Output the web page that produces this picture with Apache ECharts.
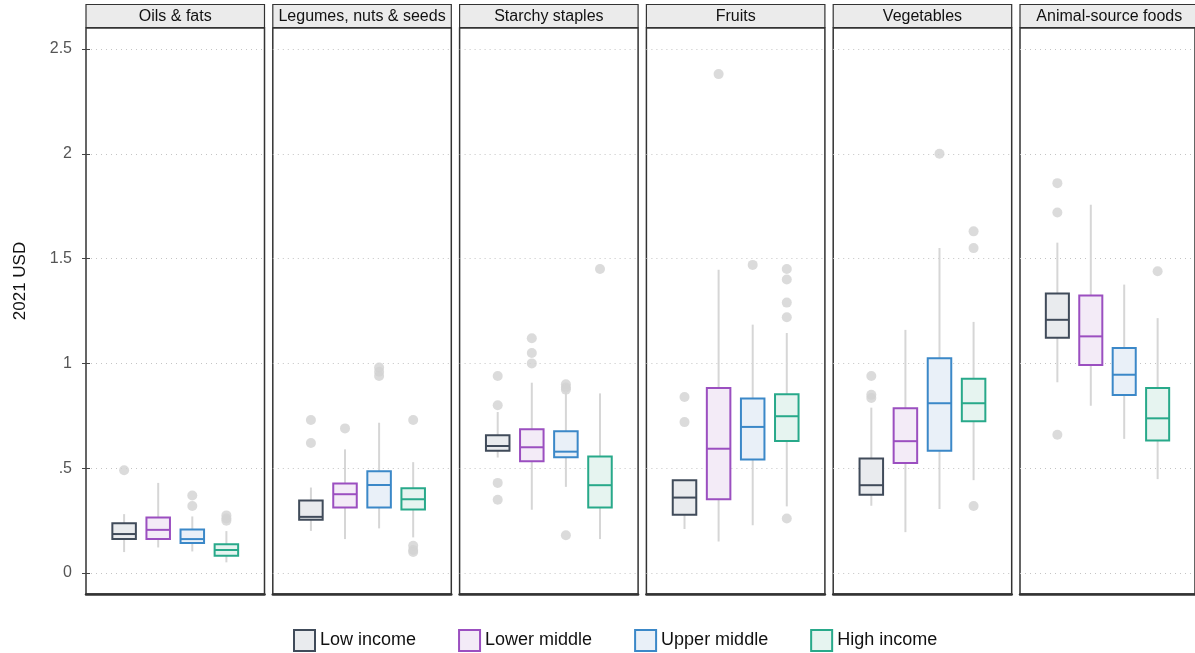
<!DOCTYPE html>
<html>
<head>
<meta charset="utf-8">
<title>Cost of food groups by country income level</title>
<script src="https://cdn.jsdelivr.net/npm/echarts@6/dist/echarts.min.js"></script>
<style>
  html, body { margin: 0; padding: 0; background: #ffffff; }
  #chart { width: 1195px; height: 653px; }
</style>
</head>
<body>
<div id="chart"></div>
<script>
// Food groups, one facet each
const foodGroups = ['Oils & fats', 'Legumes, nuts & seeds', 'Starchy staples', 'Fruits', 'Vegetables', 'Animal-source foods'];

// Country income groups
const incomeGroups = ['Low income', 'Lower middle', 'Upper middle', 'High income'];

// Box statistics per food group: [lower whisker, Q1, median, Q3, upper whisker] (2021 USD)
const lowIncomeStats = [
  [0.10, 0.162, 0.186, 0.238, 0.281],
  [0.201, 0.254, 0.268, 0.346, 0.408],
  [0.551, 0.583, 0.606, 0.657, 0.768],
  [0.21, 0.278, 0.36, 0.443, 0.443],
  [0.321, 0.373, 0.419, 0.546, 0.789],
  [0.91, 1.122, 1.208, 1.333, 1.576]
];
const lowerMiddleStats = [
  [0.122, 0.162, 0.206, 0.265, 0.43],
  [0.162, 0.313, 0.376, 0.427, 0.59],
  [0.302, 0.533, 0.60, 0.686, 0.908],
  [0.15, 0.352, 0.593, 0.883, 1.447],
  [0.195, 0.525, 0.629, 0.786, 1.16],
  [0.798, 0.992, 1.129, 1.324, 1.757]
];
const upperMiddleStats = [
  [0.103, 0.143, 0.162, 0.208, 0.27],
  [0.213, 0.313, 0.42, 0.486, 0.717],
  [0.411, 0.552, 0.579, 0.676, 0.868],
  [0.228, 0.542, 0.697, 0.833, 1.185],
  [0.305, 0.583, 0.81, 1.025, 1.551],
  [0.64, 0.849, 0.946, 1.073, 1.376]
];
const highIncomeStats = [
  [0.051, 0.083, 0.11, 0.137, 0.20],
  [0.17, 0.303, 0.352, 0.405, 0.529],
  [0.162, 0.313, 0.419, 0.556, 0.857],
  [0.318, 0.63, 0.748, 0.853, 1.145],
  [0.443, 0.724, 0.81, 0.927, 1.198],
  [0.448, 0.632, 0.738, 0.883, 1.216]
];

// Outlying countries per food group (2021 USD)
const lowIncomeOutliers = [[0.49], [0.73, 0.62], [0.94, 0.80, 0.43, 0.35], [0.84, 0.72], [0.94, 0.85, 0.835], [1.86, 1.72, 0.66]];
const lowerMiddleOutliers = [[], [0.69], [1.12, 1.05, 1.0], [2.38], [], []];
const upperMiddleOutliers = [[0.37, 0.32], [0.98, 0.96, 0.94], [0.90, 0.885, 0.875, 0.18], [1.47], [2.0], []];
const highIncomeOutliers = [[0.275, 0.26, 0.25], [0.73, 0.13, 0.11, 0.10], [1.45], [1.45, 1.40, 1.29, 1.22, 0.26], [1.63, 1.55, 0.32], [1.44]];

// Y axis ticks
const yTickValues = [0, 0.5, 1, 1.5, 2, 2.5];
const yTickLabels = ['0', '.5', '1', '1.5', '2', '2.5'];

const statsByGroup = [lowIncomeStats, lowerMiddleStats, upperMiddleStats, highIncomeStats];
const outliersByGroup = [lowIncomeOutliers, lowerMiddleOutliers, upperMiddleOutliers, highIncomeOutliers];

// Styling
const FONT = '"Liberation Sans", Arial, Helvetica, sans-serif';
const strokeColors = ['#404b5a', '#9b4fc0', '#3b88c8', '#28a98a'];
const fillColors = ['#e9ebee', '#f3ebf7', '#e9f0f8', '#e6f4f0'];
const WHISKER_COLOR = '#d6d6d6';
const OUTLIER_COLOR = '#d2d2d2';
const FRAME_COLOR = '#333333';

// Facet layout (pixels)
const PANEL_LEFT = 86;
const PANEL_STEP = 186.8;
const PANEL_WIDTH = 178.5;
const PANEL_TOP = 28;
const PANEL_HEIGHT = 566;
const HEADER_TOP = 4.5;
const HEADER_HEIGHT = 23;

// Box width in x-axis units (one unit between neighbouring boxes)
const BOX_WIDTH_UNITS = 0.69;

const chart = echarts.init(document.getElementById('chart'), null, { renderer: 'canvas' });

const grids = [], xAxes = [], yAxes = [], series = [], graphics = [];

foodGroups.forEach((name, p) => {
  const left = PANEL_LEFT + p * PANEL_STEP;
  grids.push({
    left: left, top: PANEL_TOP, width: PANEL_WIDTH, height: PANEL_HEIGHT,
    show: true, borderColor: FRAME_COLOR, borderWidth: 1.5, backgroundColor: '#ffffff',
    containLabel: false
  });
  xAxes.push({
    type: 'value', gridIndex: p, min: -0.118, max: 5.118,
    axisLine: { show: true, onZero: false, lineStyle: { color: FRAME_COLOR, width: 2.5 } },
    axisTick: { show: false }, axisLabel: { show: false }, splitLine: { show: false }
  });
  yAxes.push({
    type: 'value', gridIndex: p, min: -0.1, max: 2.6,
    axisLine: { show: false },
    axisTick: { show: p === 0, customValues: yTickValues, length: 8, lineStyle: { color: '#444', width: 1 } },
    axisLabel: {
      show: p === 0, customValues: yTickValues, margin: 14,
      color: '#555', fontSize: 16, fontFamily: FONT,
      formatter: v => {
        const i = yTickValues.findIndex(t => Math.abs(t - v) < 1e-9);
        return i >= 0 ? yTickLabels[i] : '';
      }
    },
    splitLine: { show: true, lineStyle: { color: '#c4c4c4', width: 1, type: [1, 4] } }
  });

  // Facet header strip
  graphics.push({
    type: 'rect', z: 10,
    shape: { x: left, y: HEADER_TOP, width: PANEL_WIDTH, height: HEADER_HEIGHT },
    style: { fill: '#ebebeb', stroke: FRAME_COLOR, lineWidth: 1.2 }
  });
  graphics.push({
    type: 'text', z: 11,
    x: left + PANEL_WIDTH / 2, y: HEADER_TOP + HEADER_HEIGHT / 2 + 0.5,
    style: { text: name, fontSize: 16, fontFamily: FONT, fill: '#111', textAlign: 'center', textVerticalAlign: 'middle' }
  });

  incomeGroups.forEach((groupName, g) => {
    const s = statsByGroup[g][p];
    series.push({
      type: 'custom', name: groupName,
      xAxisIndex: p, yAxisIndex: p, z: 3,
      itemStyle: { color: fillColors[g], borderColor: strokeColors[g], borderWidth: 2 },
      encode: { x: 0, y: [1, 2, 3, 4, 5] },
      data: [[g + 1, s[0], s[1], s[2], s[3], s[4]]],
      renderItem: (params, api) => {
        const x = api.value(0);
        const lo = api.coord([x, api.value(1)]);
        const q1 = api.coord([x, api.value(2)]);
        const md = api.coord([x, api.value(3)]);
        const q3 = api.coord([x, api.value(4)]);
        const hi = api.coord([x, api.value(5)]);
        const half = api.size([BOX_WIDTH_UNITS, 0])[0] / 2;
        return {
          type: 'group',
          children: [
            { type: 'line', shape: { x1: lo[0], y1: lo[1], x2: hi[0], y2: hi[1] },
              style: { stroke: WHISKER_COLOR, lineWidth: 2 } },
            { type: 'rect', shape: { x: q3[0] - half, y: q3[1], width: half * 2, height: q1[1] - q3[1] },
              style: { fill: fillColors[g], stroke: strokeColors[g], lineWidth: 2 } },
            { type: 'line', shape: { x1: md[0] - half, y1: md[1], x2: md[0] + half, y2: md[1] },
              style: { stroke: strokeColors[g], lineWidth: 2 } }
          ]
        };
      }
    });
    series.push({
      type: 'scatter', name: groupName,
      xAxisIndex: p, yAxisIndex: p, z: 2,
      symbol: 'circle', symbolSize: 10,
      itemStyle: { color: OUTLIER_COLOR },
      data: outliersByGroup[g][p].map(v => [g + 1, v])
    });
  });
});

// Y axis title
graphics.push({
  type: 'text', x: 20, y: 281, rotation: Math.PI / 2,
  style: { text: '2021 USD', fontSize: 17, fontFamily: FONT, fill: '#111', textAlign: 'center', textVerticalAlign: 'middle' }
});

chart.setOption({
  animation: false,
  backgroundColor: '#ffffff',
  textStyle: { fontFamily: FONT },
  grid: grids,
  xAxis: xAxes,
  yAxis: yAxes,
  legend: {
    left: 293, top: 629, padding: 0,
    itemWidth: 21, itemHeight: 21, itemGap: 42,
    icon: 'rect',
    textStyle: { fontSize: 18, color: '#111', fontFamily: FONT },
    data: incomeGroups.map((name, g) => ({
      name: name, icon: 'rect',
      itemStyle: { color: fillColors[g], borderColor: strokeColors[g], borderWidth: 2 }
    }))
  },
  graphic: graphics,
  series: series
});
</script>
</body>
</html>
